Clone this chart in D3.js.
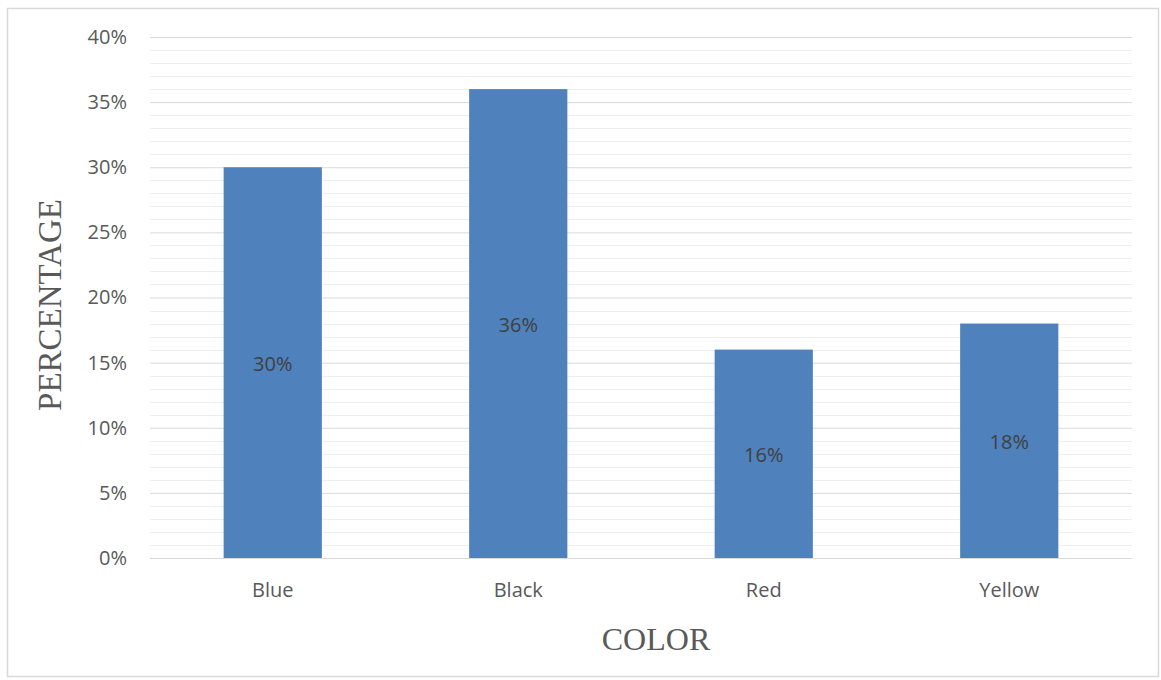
<!DOCTYPE html>
<html>
<head>
<meta charset="utf-8">
<script src="https://cdn.jsdelivr.net/npm/d3@7"></script>
<style>
  html, body { margin: 0; padding: 0; background: #fff; }
  svg { display: block; }
</style>
</head>
<body>
<svg id="chart" width="1161" height="680"></svg>
<script>
// Share of each colour
const categories = ["Blue", "Black", "Red", "Yellow"];
const values = [0.30, 0.36, 0.16, 0.18];
const valueLabels = ["30%", "36%", "16%", "18%"];
const yTicks = [0, 0.05, 0.10, 0.15, 0.20, 0.25, 0.30, 0.35, 0.40];
const xTitle = "COLOR";
const yTitle = "PERCENTAGE";

const svg = d3.select("#chart");
const plot = { left: 150, right: 1132, top: 37, bottom: 558 };

// Chart frame
svg.append("rect")
  .attr("x", 7.5).attr("y", 8.5)
  .attr("width", 1151).attr("height", 668)
  .attr("fill", "#fff")
  .attr("stroke", "#d9d9d9").attr("stroke-width", 1.5);

const x = d3.scaleBand()
  .domain(categories)
  .range([plot.left, plot.right])
  .paddingInner(0.6)
  .paddingOuter(0.3);

const y = d3.scaleLinear()
  .domain([0, 0.40])
  .range([plot.bottom, plot.top]);

const labelFont = "'Open Sans', 'Noto Sans', sans-serif";

// Minor gridlines every 1%
const minor = d3.range(0, 41).filter(v => v % 5 !== 0).map(v => v / 100);
svg.append("g")
  .selectAll("line")
  .data(minor)
  .join("line")
  .attr("x1", plot.left).attr("x2", plot.right)
  .attr("y1", d => Math.round(y(d)) + 0.5)
  .attr("y2", d => Math.round(y(d)) + 0.5)
  .attr("stroke", "#eeeeee").attr("stroke-width", 1);

// Major gridlines and tick labels via the axis generator
const yAxis = d3.axisLeft(y)
  .tickValues(yTicks)
  .tickFormat(d3.format(".0%"))
  .tickSize(-(plot.right - plot.left))
  .tickPadding(23);

const gy = svg.append("g")
  .attr("transform", `translate(${plot.left},0)`)
  .call(yAxis);
gy.select(".domain").remove();
gy.selectAll(".tick line")
  .attr("stroke", "#d9d9d9").attr("stroke-width", 1);
gy.selectAll(".tick text")
  .attr("fill", "#595959")
  .style("font-family", labelFont)
  .style("font-size", "20px");

// Bars
svg.append("g")
  .selectAll("rect")
  .data(categories)
  .join("rect")
  .attr("x", d => x(d))
  .attr("width", x.bandwidth())
  .attr("y", (d, i) => y(values[i]))
  .attr("height", (d, i) => y(0) - y(values[i]))
  .attr("fill", "#4f81bd");

// Value labels centred in each bar
svg.append("g")
  .selectAll("text")
  .data(categories)
  .join("text")
  .attr("x", d => x(d) + x.bandwidth() / 2)
  .attr("y", (d, i) => (y(values[i]) + y(0)) / 2 + 1)
  .attr("dy", "0.36em")
  .attr("text-anchor", "middle")
  .attr("fill", "#404040")
  .style("font-family", labelFont)
  .style("font-size", "20px")
  .text((d, i) => valueLabels[i]);

// Category axis
const xAxis = d3.axisBottom(x).tickSize(0).tickPadding(25);
const gx = svg.append("g")
  .attr("transform", `translate(0,${plot.bottom})`)
  .call(xAxis);
gx.select(".domain").remove();
gx.selectAll(".tick text")
  .attr("fill", "#595959")
  .style("font-family", labelFont)
  .style("font-size", "20px");

// Axis titles
const titleFont = "'Liberation Serif', 'DejaVu Serif', serif";
svg.append("text")
  .attr("x", 656)
  .attr("y", 650)
  .attr("text-anchor", "middle")
  .attr("fill", "#595959")
  .style("font-family", titleFont)
  .style("font-size", "32px")
  .text(xTitle);

svg.append("text")
  .attr("transform", `translate(61,305) rotate(-90)`)
  .attr("text-anchor", "middle")
  .attr("fill", "#595959")
  .style("font-family", titleFont)
  .style("font-size", "33px")
  .text(yTitle);
</script>
</body>
</html>
